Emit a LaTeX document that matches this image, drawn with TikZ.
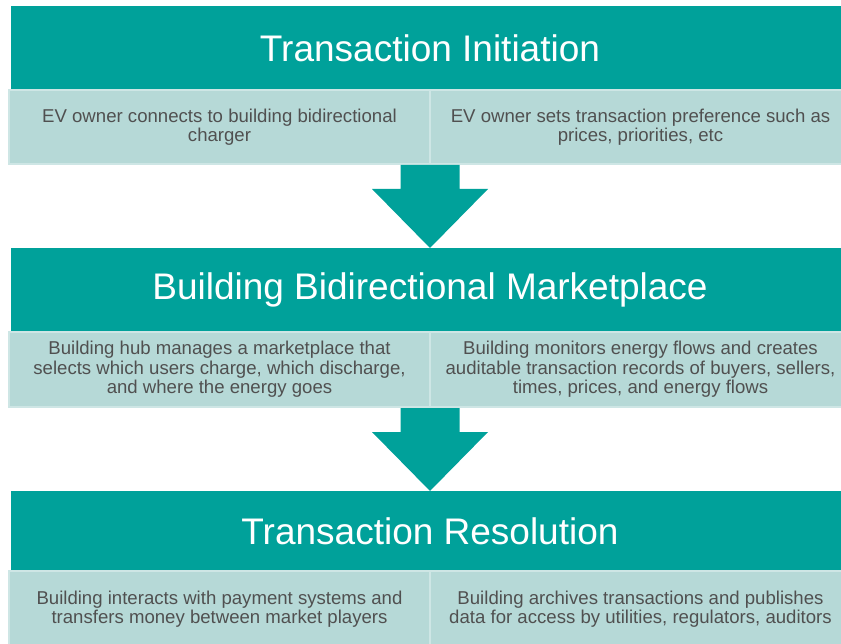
\documentclass[tikz,border=0pt]{standalone}
\usepackage{fontspec}
\setmainfont{Liberation Sans}
\usepackage{xcolor}
\usetikzlibrary{positioning,calc}

\definecolor{headteal}{RGB}{0,161,154}
\definecolor{rowfill}{RGB}{182,217,215}
\definecolor{rowline}{RGB}{206,230,229}
\definecolor{rowtext}{RGB}{80,80,80}

% block arrow pointing down from #1 to #2
\newcommand{\blockarrow}[2]{%
  \fill[headteal] ($(#1)+(-29.5,1)$) -- ($(#1)+(29.5,1)$)
    -- ($(#2)+(29.5,-59)$) -- ($(#2)+(58,-59)$) -- (#2)
    -- ($(#2)+(-58,-59)$) -- ($(#2)+(-29.5,-59)$) -- cycle;}

\begin{document}
\begin{tikzpicture}[
    x=1pt, y=-1pt,
    header/.style={rectangle, fill=headteal, minimum width=838pt, inner sep=0pt, outer sep=0pt,
        text=white, font=\fontsize{37}{40}\selectfont},
    rowbox/.style={rectangle, fill=rowfill, draw=rowline, line width=1.2pt, minimum width=421pt,
        inner sep=0pt, outer sep=0pt, align=center, text=rowtext,
        font=\fontsize{18.6}{19.6}\selectfont}
]
\path[use as bounding box, clip] (0,0) rectangle (841,644);

% Stage 1
\node[header, minimum height=84pt] (init) at (430,48) {Transaction Initiation};
\node[rowbox, minimum height=74pt, below=0pt of init.south, anchor=north east] (initL)
    {EV owner connects to building bidirectional\\charger};
\node[rowbox, minimum height=74pt, below=0pt of init.south, anchor=north west] (initR)
    {EV owner sets transaction preference such as\\prices, priorities, etc};

% Stage 2
\node[header, minimum height=84pt] (market) at (430,290) {Building Bidirectional Marketplace};
\node[rowbox, minimum height=75pt, below=0pt of market.south, anchor=north east] (marketL)
    {Building hub manages a marketplace that\\selects which users charge, which discharge,\\and where the energy goes};
\node[rowbox, minimum height=75pt, below=0pt of market.south, anchor=north west] (marketR)
    {Building monitors energy flows and creates\\auditable transaction records of buyers, sellers,\\times, prices, and energy flows};

% Stage 3
\node[header, minimum height=80pt] (resol) at (430,531) {Transaction Resolution};
\node[rowbox, minimum height=76pt, below=0pt of resol.south, anchor=north east] (resolL)
    {Building interacts with payment systems and\\transfers money between market players};
\node[rowbox, minimum height=76pt, below=0pt of resol.south, anchor=north west] (resolR)
    {Building archives transactions and publishes\\data for access by utilities, regulators, auditors};

% Arrows between stages
\blockarrow{initL.south east}{market.north}
\blockarrow{marketL.south east}{resol.north}

\end{tikzpicture}
\end{document}
